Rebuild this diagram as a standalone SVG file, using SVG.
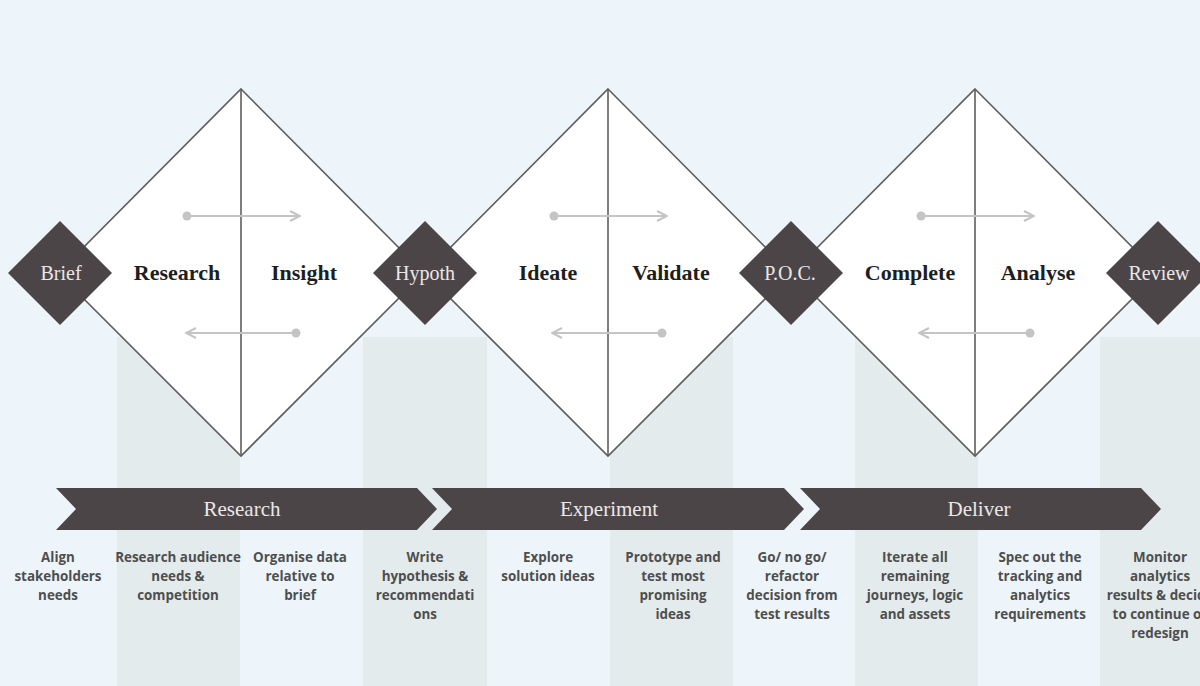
<svg xmlns="http://www.w3.org/2000/svg" width="1200" height="686" viewBox="0 0 1200 686">
  <defs>
    <style>
      .big { fill: #ffffff; stroke: #5e5e5e; stroke-width: 1.6; }
      .div { stroke: #5e5e5e; stroke-width: 1.6; }
      .small { fill: #4b4547; }
      .flow { stroke: #c4c4c4; stroke-width: 2; fill: none; }
      .dot { fill: #c4c4c4; }
      .lab { font-family: "Liberation Serif", "DejaVu Serif", serif; font-weight: bold; font-size: 22px; fill: #1e1e1e; text-anchor: middle; }
      .slab { font-family: "Liberation Serif", "DejaVu Serif", serif; font-size: 20px; fill: #ece7e7; text-anchor: middle; }
      .blab { font-family: "Liberation Serif", "DejaVu Serif", serif; font-size: 21px; fill: #ece7e7; text-anchor: middle; }
      .band { fill: #4b4547; }
      .col { font-family: "Open Sans", "Liberation Sans", sans-serif; font-weight: bold; font-size: 13.4px; fill: #4e4e4e; text-anchor: middle; }
      .stripe { fill: #e3ebed; }
    </style>
    <marker id="ah" viewBox="0 0 12 12" refX="11" refY="6" markerWidth="12" markerHeight="12" markerUnits="userSpaceOnUse" orient="auto">
      <path d="M1,1 L11,6 L1,11" fill="none" stroke="#c4c4c4" stroke-width="2"/>
    </marker>
  </defs>

  <rect width="1200" height="686" fill="#edf5fa"/>
  <g id="stripes">
    <rect class="stripe" x="117" y="337" width="123" height="349"/>
    <rect class="stripe" x="363" y="337" width="124" height="349"/>
    <rect class="stripe" x="610" y="337" width="123" height="349"/>
    <rect class="stripe" x="855" y="337" width="123" height="349"/>
    <rect class="stripe" x="1100" y="337" width="100" height="349"/>
  </g>

  <g id="diamond-1">
    <polygon class="big" points="241,89 424,273 241,456 58,273"/>
    <line class="div" x1="241" y1="89" x2="241" y2="456"/>
  </g>
  <g id="diamond-2">
    <polygon class="big" points="608,89 791,273 608,456 425,273"/>
    <line class="div" x1="608" y1="89" x2="608" y2="456"/>
  </g>
  <g id="diamond-3">
    <polygon class="big" points="975,89 1158,273 975,456 792,273"/>
    <line class="div" x1="975" y1="89" x2="975" y2="456"/>
  </g>

  <g id="connectors">
    <line class="flow" x1="187" y1="216" x2="300" y2="216" marker-end="url(#ah)"/>
    <circle class="dot" cx="187" cy="216" r="4.5"/>
    <line class="flow" x1="296" y1="333" x2="186" y2="333" marker-end="url(#ah)"/>
    <circle class="dot" cx="296" cy="333" r="4.5"/>

    <line class="flow" x1="554" y1="216" x2="667" y2="216" marker-end="url(#ah)"/>
    <circle class="dot" cx="554" cy="216" r="4.5"/>
    <line class="flow" x1="662" y1="333" x2="552" y2="333" marker-end="url(#ah)"/>
    <circle class="dot" cx="662" cy="333" r="4.5"/>

    <line class="flow" x1="921" y1="216" x2="1034" y2="216" marker-end="url(#ah)"/>
    <circle class="dot" cx="921" cy="216" r="4.5"/>
    <line class="flow" x1="1030" y1="333" x2="919" y2="333" marker-end="url(#ah)"/>
    <circle class="dot" cx="1030" cy="333" r="4.5"/>
  </g>

  <g id="labels-diamond">
    <text class="lab" x="177" y="280">Research</text>
    <text class="lab" x="304" y="280">Insight</text>
    <text class="lab" x="548" y="280">Ideate</text>
    <text class="lab" x="671" y="280">Validate</text>
    <text class="lab" x="910" y="280">Complete</text>
    <text class="lab" x="1038" y="280">Analyse</text>
  </g>

  <g id="node-brief">
    <polygon class="small" points="60,221 112,273 60,325 8,273"/>
    <text class="slab" x="61" y="280">Brief</text>
  </g>
  <g id="node-hypoth">
    <polygon class="small" points="425,221 477,273 425,325 373,273"/>
    <text class="slab" x="425" y="280">Hypoth</text>
  </g>
  <g id="node-poc">
    <polygon class="small" points="791,221 843,273 791,325 739,273"/>
    <text class="slab" x="790" y="280">P.O.C.</text>
  </g>
  <g id="node-review">
    <polygon class="small" points="1158,221 1210,273 1158,325 1106,273"/>
    <text class="slab" x="1159" y="280">Review</text>
  </g>

  <g id="band-research">
    <polygon class="band" points="56,488 417,488 437,509 417,530 56,530 76,509"/>
    <text class="blab" x="242" y="516">Research</text>
  </g>
  <g id="band-experiment">
    <polygon class="band" points="432,488 784,488 804,509 784,530 432,530 452,509"/>
    <text class="blab" x="609" y="516">Experiment</text>
  </g>
  <g id="band-deliver">
    <polygon class="band" points="800,488 1141,488 1161,509 1141,530 800,530 820,509"/>
    <text class="blab" x="979" y="516">Deliver</text>
  </g>

  <g id="col-1"><text class="col" x="58" y="562"><tspan x="58">Align</tspan><tspan x="58" dy="19">stakeholders</tspan><tspan x="58" dy="19">needs</tspan></text></g>
  <g id="col-2"><text class="col" x="178" y="562"><tspan x="178">Research audience</tspan><tspan x="178" dy="19">needs &amp;</tspan><tspan x="178" dy="19">competition</tspan></text></g>
  <g id="col-3"><text class="col" x="300" y="562"><tspan x="300">Organise data</tspan><tspan x="300" dy="19">relative to</tspan><tspan x="300" dy="19">brief</tspan></text></g>
  <g id="col-4"><text class="col" x="425" y="562"><tspan x="425">Write</tspan><tspan x="425" dy="19">hypothesis &amp;</tspan><tspan x="425" dy="19">recommendati</tspan><tspan x="425" dy="19">ons</tspan></text></g>
  <g id="col-5"><text class="col" x="548" y="562"><tspan x="548">Explore</tspan><tspan x="548" dy="19">solution ideas</tspan></text></g>
  <g id="col-6"><text class="col" x="673" y="562"><tspan x="673">Prototype and</tspan><tspan x="673" dy="19">test most</tspan><tspan x="673" dy="19">promising</tspan><tspan x="673" dy="19">ideas</tspan></text></g>
  <g id="col-7"><text class="col" x="792" y="562"><tspan x="792">Go/ no go/</tspan><tspan x="792" dy="19">refactor</tspan><tspan x="792" dy="19">decision from</tspan><tspan x="792" dy="19">test results</tspan></text></g>
  <g id="col-8"><text class="col" x="915" y="562"><tspan x="915">Iterate all</tspan><tspan x="915" dy="19">remaining</tspan><tspan x="915" dy="19">journeys, logic</tspan><tspan x="915" dy="19">and assets</tspan></text></g>
  <g id="col-9"><text class="col" x="1040" y="562"><tspan x="1040">Spec out the</tspan><tspan x="1040" dy="19">tracking and</tspan><tspan x="1040" dy="19">analytics</tspan><tspan x="1040" dy="19">requirements</tspan></text></g>
  <g id="col-10"><text class="col" x="1160" y="562"><tspan x="1160">Monitor</tspan><tspan x="1160" dy="19">analytics</tspan><tspan x="1160" dy="19">results &amp; decide</tspan><tspan x="1160" dy="19">to continue or</tspan><tspan x="1160" dy="19">redesign</tspan></text></g>
</svg>
